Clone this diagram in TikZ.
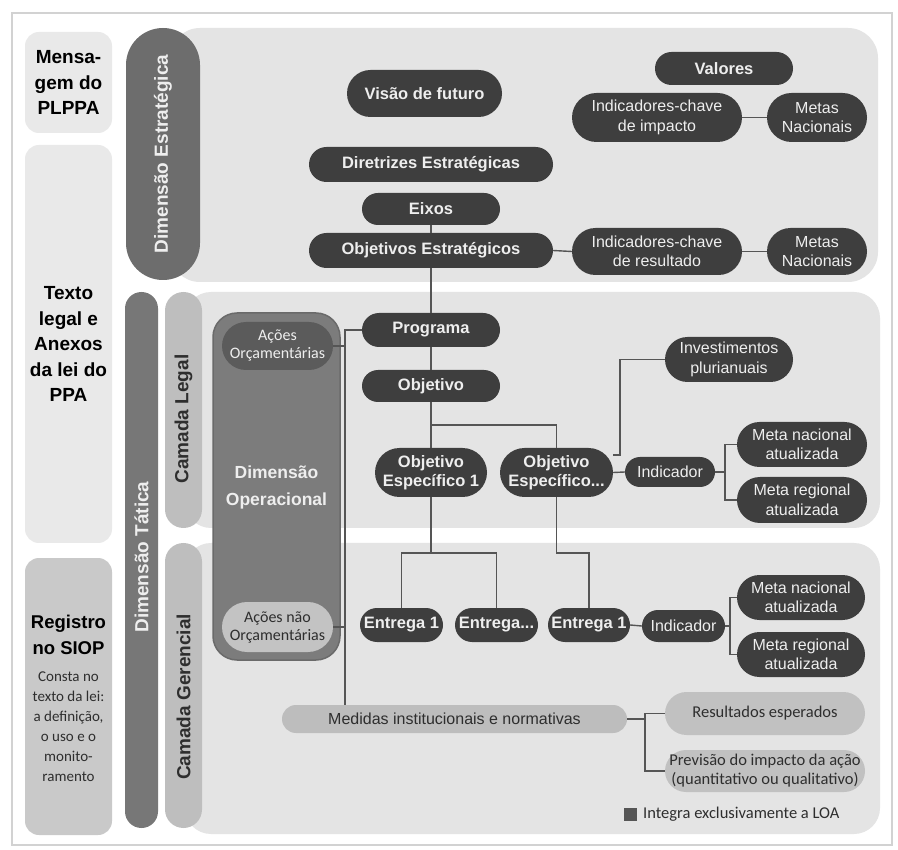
\documentclass[tikz,border=0pt]{standalone}
\usepackage{fontspec}
\setmainfont{Liberation Sans}
\newfontfamily\carl{Carlito}
\usetikzlibrary{calc}

\definecolor{framec}{HTML}{D2D2D2}
\definecolor{panelc}{HTML}{E4E4E4}
\definecolor{lightbox}{HTML}{E9E9E9}
\definecolor{regc}{HTML}{C9C9C9}
\definecolor{estrc}{HTML}{6D6D6D}
\definecolor{tatc}{HTML}{777777}
\definecolor{camc}{HTML}{BEBEBE}
\definecolor{opc}{HTML}{7C7C7C}
\definecolor{opborder}{HTML}{6A6A6A}
\definecolor{aoc}{HTML}{5B5B5B}
\definecolor{anoc}{HTML}{C3C3C3}
\definecolor{darkc}{HTML}{3E3E3E}
\definecolor{medc}{HTML}{BDBDBD}
\definecolor{resc}{HTML}{C1C1C1}
\definecolor{linec}{HTML}{555555}
\definecolor{ptext}{HTML}{EEEEEE}
\definecolor{legc}{HTML}{555555}
\definecolor{dtext}{HTML}{2E2E2E}

\tikzset{
  pill/.style 2 args={rectangle, minimum width=#1, minimum height=#2, rounded corners=#2/2, inner sep=1pt, align=center},
  dk/.style={fill=darkc, text=ptext},
  bfp/.style={font=\fontsize{16.5}{19}\selectfont\bfseries},
  rgp/.style={font=\fontsize{16}{19.5}\selectfont},
  cal/.style={font=\carl\fontsize{16.5}{19}\selectfont},
  conn/.style={draw=linec, line width=1.4pt},
  leftb/.style={rectangle, fill=lightbox, rounded corners=14, align=center, inner sep=1pt, minimum width=87, font=\fontsize{19}{25.5}\selectfont\bfseries, text=black},
  vbar/.style={rectangle, inner sep=0pt},
  vlab/.style={rotate=90, font=\fontsize{19}{22}\selectfont\bfseries, inner sep=0pt},
}

\begin{document}
\begin{tikzpicture}[x=1pt,y=-1pt]
\useasboundingbox (0,0) rectangle (898,850);
\fill[white] (0,0) rectangle (898,850);
\draw[framec, line width=1.5pt] (12,13) rectangle (892,845);

% panels
\fill[panelc, rounded corners=30] (170,28) rectangle (878,282);
\fill[panelc, rounded corners=26] (185,292) rectangle (880,528);
\fill[panelc, rounded corners=26] (185,543) rectangle (880,834);

% left column
\node[leftb, minimum height=101] (msg) at (68.5,82.5) {Mensa-\\gem do\\PLPPA};
\node[leftb, minimum height=398] (txt) at (68.5,344) {Texto\\legal e\\Anexos\\da lei do\\PPA};
\node[leftb, fill=regc, minimum height=277] (reg) at (68.5,696.5) {};
\node[align=center, inner sep=0pt, font=\fontsize{18.5}{26}\selectfont\bfseries] (regt) at (68.5,635) {Registro\\no SIOP};
\node[align=center, inner sep=0pt, font=\carl\fontsize{15}{20}\selectfont, text=dtext] (regs) at (68.5,727) {Consta no\\texto da lei:\\a definição,\\o uso e o\\monito-\\ramento};

% vertical bars
\node[vbar, fill=estrc, rounded corners=37, minimum width=74, minimum height=252] (estr) at (163,154) {};
\node[vlab, text=ptext] (estrt) at (163,154) {Dimensão Estratégica};
\node[vbar, fill=tatc, rounded corners=16.5, minimum width=33, minimum height=536] (tat) at (141.5,560) {};
\node[vlab, text=ptext] (tatt) at (141.5,557) {Dimensão Tática};
\node[vbar, fill=camc, rounded corners=18.5, minimum width=37, minimum height=236] (cl) at (183.5,410) {};
\node[vlab, text=dtext] (clt) at (183.5,419) {Camada Legal};
\node[vbar, fill=camc, rounded corners=18.5, minimum width=37, minimum height=285] (cg) at (183.5,685.5) {};
\node[vlab, text=dtext] (cgt) at (183.5,697) {Camada Gerencial};

% dimensao operacional
\node[rectangle, fill=opc, draw=opborder, line width=1.5pt, rounded corners=24, minimum width=127, minimum height=347] (dop) at (276.5,486.5) {};
\node[align=center, text=ptext, inner sep=0pt, font=\fontsize{17.5}{27}\selectfont\bfseries] (dopt) at (276.5,487) {Dimensão\\Operacional};
\node[pill={111}{48}, fill=aoc, text=ptext, font=\carl\fontsize{16}{18}\selectfont] (ao) at (277.5,346) {Ações\\Orçamentárias};
\node[pill={111}{50}, fill=anoc, text=dtext, font=\carl\fontsize{16}{18}\selectfont] (ano) at (277.5,627) {Ações não\\Orçamentárias};

% strategic dimension nodes
\node[pill={155}{47}, dk, bfp] (vis) at (424.5,93.5) {Visão de futuro};
\node[pill={244}{35}, dk, bfp] (dir) at (431,164.5) {Diretrizes Estratégicas};
\node[pill={138}{32}, dk, bfp] (eix) at (431,209) {Eixos};
\node[pill={244}{35}, dk, bfp] (obe) at (431,250.5) {Objetivos Estratégicos};
\node[pill={138}{33}, dk, bfp] (val) at (724,68.5) {Valores};
\node[pill={170}{49}, dk, rgp] (ikci) at (657,117.5) {Indicadores-chave\\de impacto};
\node[pill={100}{49}, dk, rgp] (mn1) at (817,117.5) {Metas\\Nacionais};
\node[pill={170}{47}, dk, rgp] (ikcr) at (657,251.5) {Indicadores-chave\\de resultado};
\node[pill={100}{47}, dk, rgp] (mn2) at (817,251.5) {Metas\\Nacionais};

% legal layer
\node[pill={138}{34}, dk, bfp] (prog) at (431,330) {Programa};
\node[pill={138}{32}, dk, bfp] (obj) at (431,386) {Objetivo};
\node[pill={112}{49}, dk, bfp] (oe1) at (431,472.5) {Objetivo\\Específico 1};
\node[pill={113}{49}, dk, bfp] (oe2) at (556.5,472.5) {Objetivo\\Específico...};
\node[pill={128}{45}, dk, rgp] (inv) at (729,359.5) {Investimentos\\plurianuais};
\node[pill={90}{30}, dk, rgp] (ind1) at (670,472) {Indicador};
\node[pill={130}{45}, dk, rgp] (mna1) at (802,444.5) {Meta nacional\\atualizada};
\node[pill={130}{46}, dk, rgp] (mra1) at (802,500) {Meta regional\\atualizada};

% managerial layer
\node[pill={83}{34}, dk, bfp] (e1) at (401.5,625) {Entrega 1};
\node[pill={83}{34}, dk, bfp] (e2) at (496.5,625) {Entrega...};
\node[pill={82}{34}, dk, bfp] (e3) at (589,625) {Entrega 1};
\node[pill={83}{32}, dk, rgp] (ind2) at (683.5,626) {Indicador};
\node[pill={128}{45}, dk, rgp] (mna2) at (801,597.5) {Meta nacional\\atualizada};
\node[pill={128}{45}, dk, rgp] (mra2) at (801,654.5) {Meta regional\\atualizada};
\node[pill={345}{28}, fill=medc, text=dtext, rgp] (med) at (454.5,719) {Medidas institucionais e normativas};
\node[pill={200}{43}, fill=resc, text=dtext, cal] (res) at (765,713.5) {Resultados esperados};
\node[pill={200}{42}, fill=resc, text=dtext, cal] (prev) at (765,771) {Previsão do impacto da ação\\(quantitativo ou qualitativo)};

% legend
\node[rectangle, fill=legc, minimum size=13, inner sep=0pt] (legsq) at (630,814) {};
\node[anchor=west, inner sep=0pt, text=dtext, font=\carl\fontsize{16.5}{19}\selectfont] (legt) at (643,814) {Integra exclusivamente a LOA};

% helper coordinates
\coordinate (b1) at (431,425);
\coordinate (k1) at (620,455);
\coordinate (k2) at (725,472);
\coordinate (k3) at (431,553);
\coordinate (k4) at (556.5,553);
\coordinate (k5) at (730,626);
\coordinate (k6) at (645,719);
\coordinate (vtop) at (345,330);
\coordinate (vbot) at (345,705);

% connectors
\draw[conn] (eix.south) -- (obe.north);
\draw[conn] (obe.south) -- (prog.north);
\draw[conn] (obe.east) -- (ikcr.west);
\draw[conn] (ikci.east) -- (mn1.west);
\draw[conn] (ikcr.east) -- (mn2.west);
\draw[conn] (prog.south) -- (obj.north);
\draw[conn] (obj.south) -- (oe1.north);
\draw[conn] (b1) -| (oe2.north);
\draw[conn] (oe2.east |- k1) -| (k1 |- inv.west) -- (inv.west);
\draw[conn] (oe2.east) -- (ind1.west);
\draw[conn] (ind1.east) -- (k2);
\draw[conn] (mna1.west) -| (k2) |- (mra1.west);
\draw[conn] (oe1.south) -- (k3);
\draw[conn] (e1.north) |- (k3) -| (e2.north);
\draw[conn] (oe2.south) -- (k4) -| (e3.north);
\draw[conn] (e3.east) -- (ind2.west);
\draw[conn] (ind2.east) -- (k5);
\draw[conn] (mna2.west) -| (k5) |- (mra2.west);
\draw[conn] (med.east) -- (k6);
\draw[conn] (res.west) -| (k6) |- (prev.west);
\draw[conn] (prog.west) -- (vtop) -- (vbot);
\draw[conn] (ao.east) -- (ao.east -| vtop);
\draw[conn] (ano.east) -- (ano.east -| vtop);
\end{tikzpicture}
\end{document}
